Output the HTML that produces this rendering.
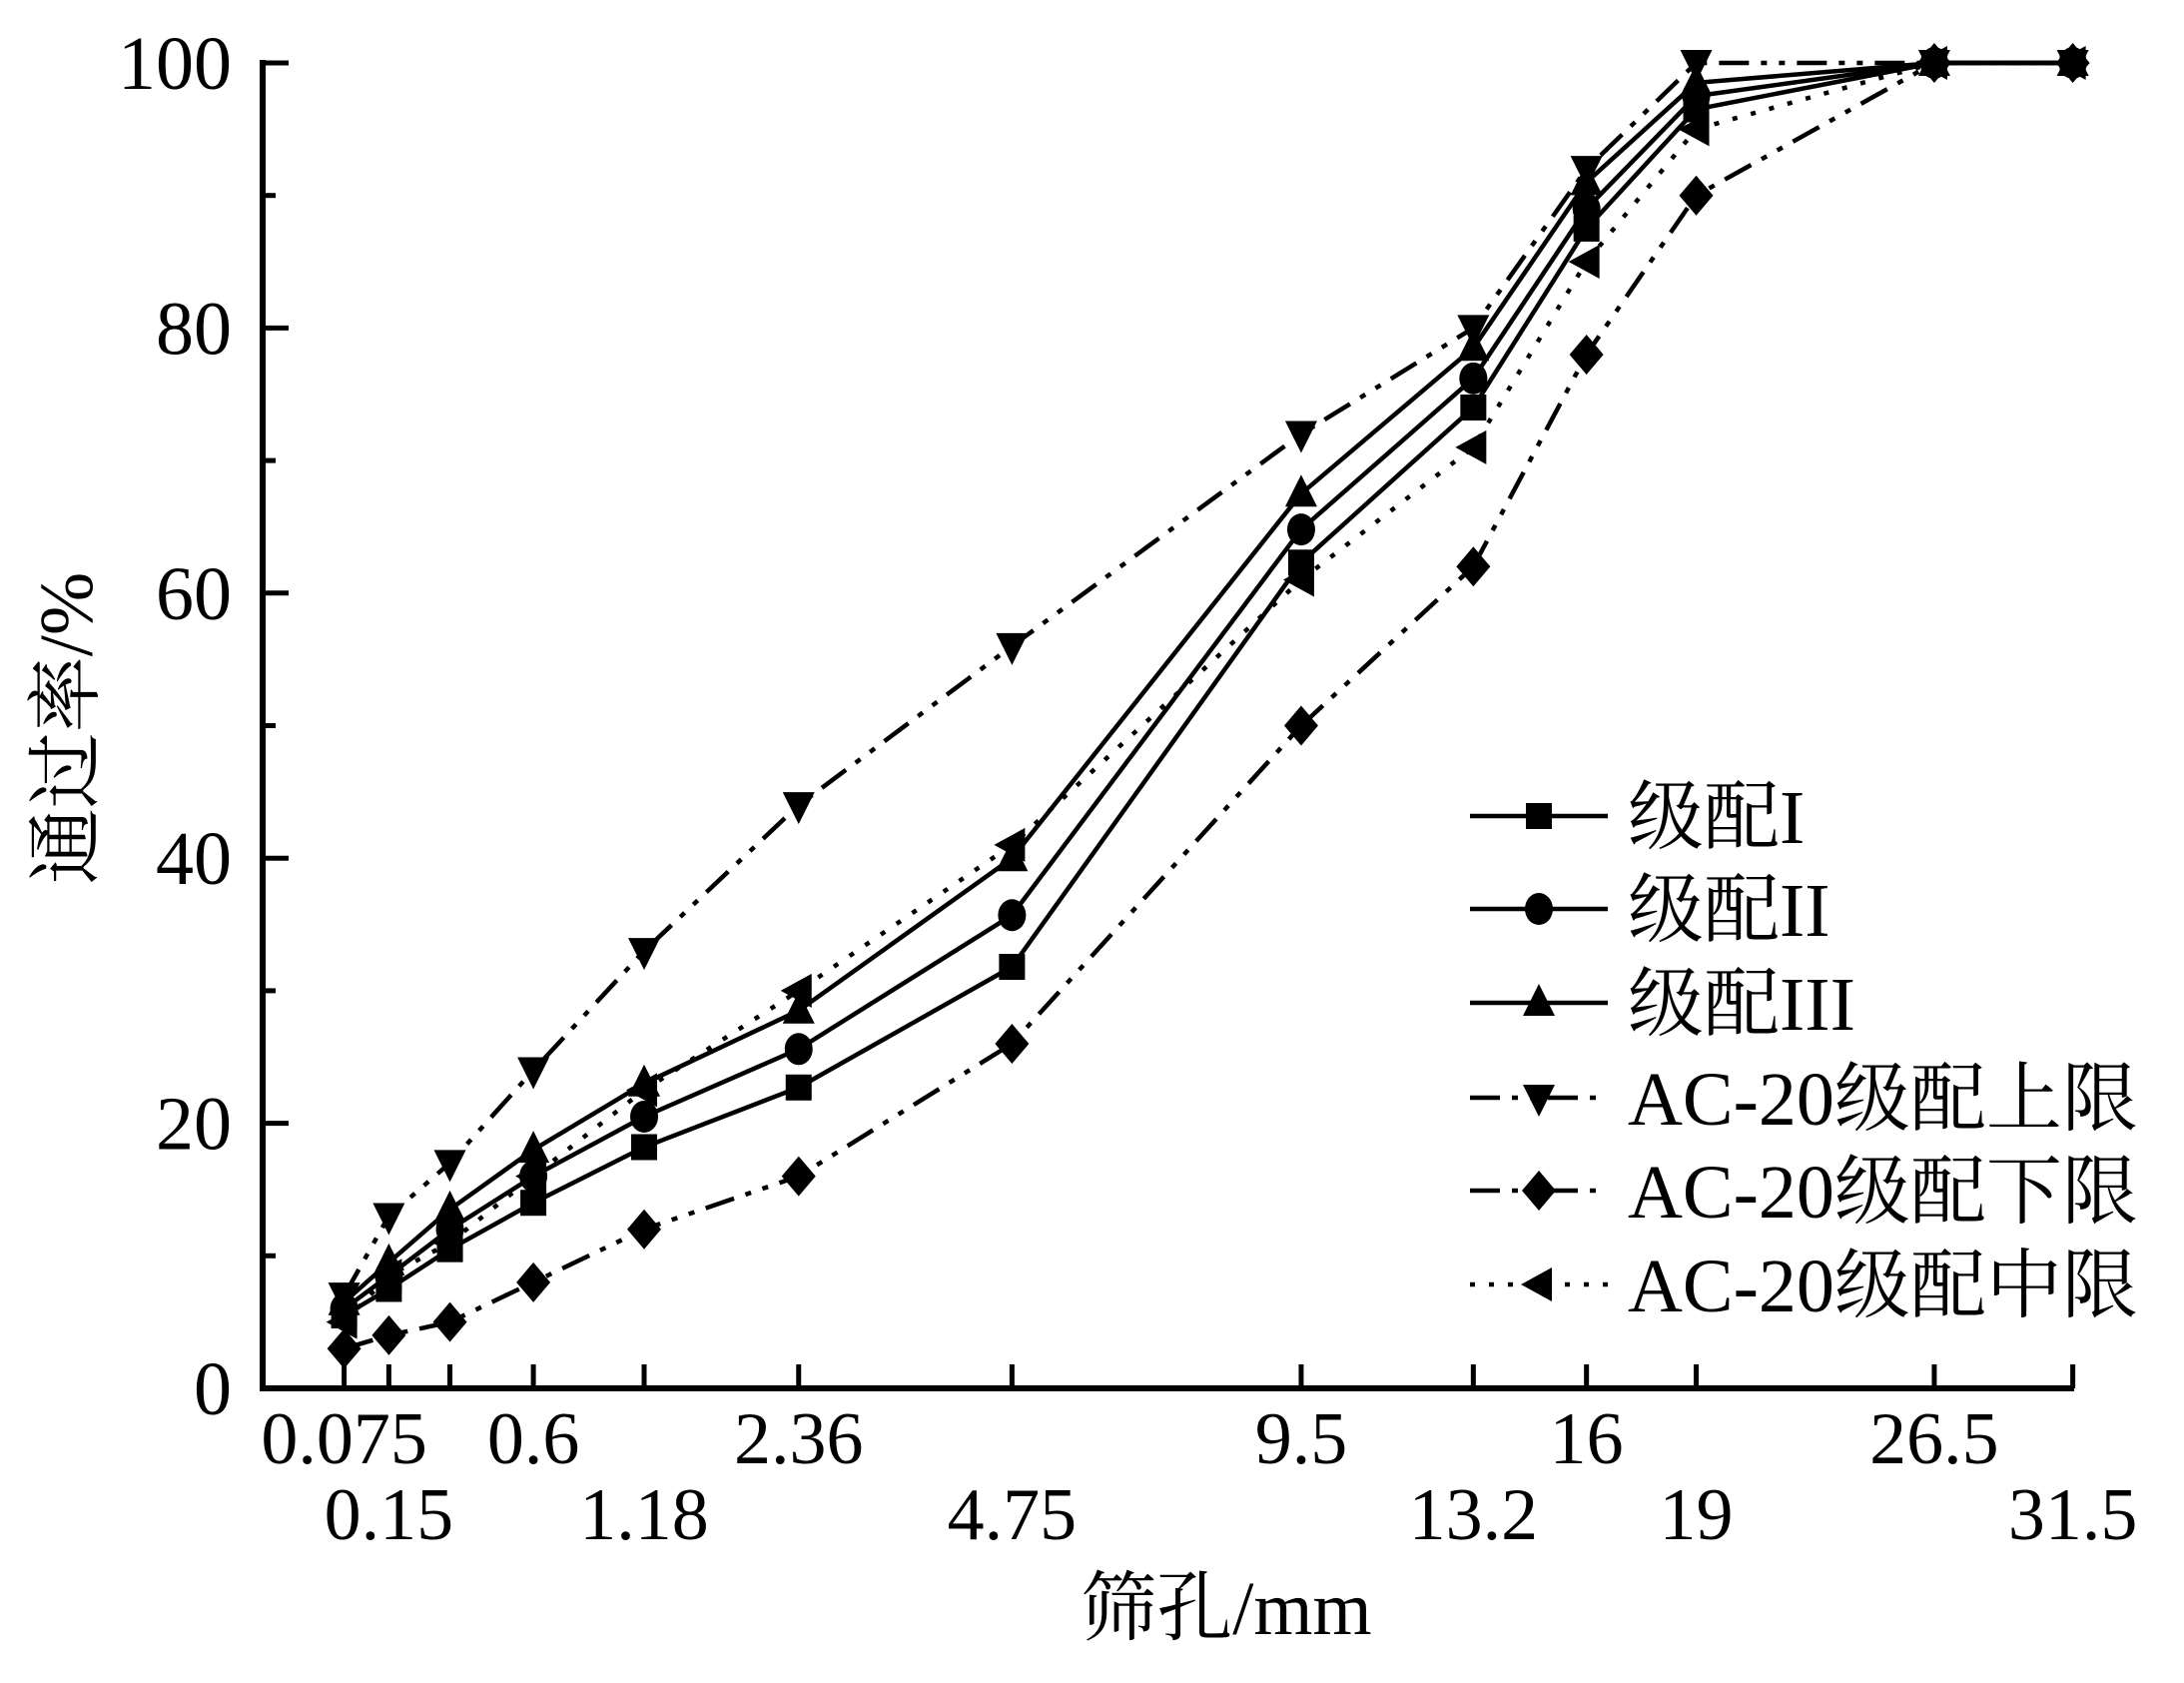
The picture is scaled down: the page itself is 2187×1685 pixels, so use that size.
<!DOCTYPE html>
<html><head><meta charset="utf-8"><style>
body{margin:0;background:#fff}
svg{display:block}
text{font-family:"Liberation Serif","Noto Serif CJK SC","Noto Sans CJK SC",serif;fill:#000}
</style></head><body>
<svg id="chart" width="2187" height="1685" viewBox="0 0 2187 1685" xmlns="http://www.w3.org/2000/svg"></svg>
<script>
const sieves=[0.075,0.15,0.3,0.6,1.18,2.36,4.75,9.5,13.2,16,19,26.5,31.5];
const topLabels=["0.075","","","0.6","","2.36","","9.5","","16","","26.5",""];
const bottomLabels=["","0.15","","","1.18","","4.75","","13.2","","19","","31.5"];
const yTicks=[0,20,40,60,80,100];
const g1=[5.5,7.5,10.5,14,18.2,22.7,31.8,62.3,74,87.5,96.5,100,100];
const g2=[6,8.5,12,16,20.5,25.6,35.7,64.8,76.2,89,97.5,100,100];
const g3=[6.5,9.5,13.5,18,23,28.5,40,67.5,78.5,91,98.5,100,100];
const upper=[7,13,17,24,33,44,56,72,80,92,100,100,100];
const lower=[3,4,5,8,12,16,26,50,62,78,90,100,100];
const middle=[5,8.5,11,16,22.5,30,41,61,71,85,95,100,100];

const NS="http://www.w3.org/2000/svg";
const svg=document.getElementById('chart');
const X0=263,X1=2077,Y0=1390,Y1=63;
function xs(d){const raw=222.1+394.2*Math.pow(d,0.45);return X0+0.9954*(raw-X0);}
function ys(v){return Y0-(v/100)*(Y0-Y1);}
function mk(tag,attrs,parent){const e=document.createElementNS(NS,tag);for(const k in attrs)e.setAttribute(k,attrs[k]);(parent||svg).appendChild(e);return e;}

const axes=mk('g',{});


const yl=mk('line',{x1:X0,y1:Y0+3,x2:X0,y2:Y1-3,stroke:'#000','stroke-width':6},axes);


const xl=mk('line',{x1:X0-3,y1:Y0,x2:X1,y2:Y0,stroke:'#000','stroke-width':6},axes);


for(let v=0;v<=100;v+=10){
  const major=v%20===0;
  const t=mk('line',{x1:X0,y1:ys(v),x2:X0+(major?26:13),y2:ys(v),stroke:'#000','stroke-width':5},axes);
  
  
}
yTicks.forEach(v=>{
  const t=mk('text',{x:232,y:ys(v)+26,'font-size':76,'text-anchor':'end'},axes);
  t.textContent=v;
  
  
});
sieves.forEach((d,i)=>{
  const t=mk('line',{x1:xs(d),y1:Y0,x2:xs(d),y2:Y0-24,stroke:'#000','stroke-width':5},axes);
  
  
  if(topLabels[i]){const l=mk('text',{x:xs(d),y:1465,'font-size':74,'text-anchor':'middle'},axes);l.textContent=topLabels[i];
    
    }
  if(bottomLabels[i]){const l=mk('text',{x:xs(d),y:1541,'font-size':74,'text-anchor':'middle'},axes);l.textContent=bottomLabels[i];
    
    }
});
const xt=mk('text',{x:1228,y:1636,'font-size':76,'text-anchor':'middle'});
xt.textContent='筛孔/mm';


const yt=mk('text',{x:0,y:0,'font-size':76,'text-anchor':'middle',transform:'translate(92,729) rotate(-90)'});
yt.textContent='通过率/%';



function marker(type,x,y,parent){
  let e;
  if(type==='square')e=mk('rect',{x:x-13,y:y-13,width:26,height:26},parent);
  else if(type==='circle')e=mk('ellipse',{cx:x,cy:y,rx:14,ry:16},parent);
  else if(type==='up')e=mk('polygon',{points:`${x},${y-19} ${x-16},${y+13} ${x+16},${y+13}`},parent);
  else if(type==='down')e=mk('polygon',{points:`${x},${y+19} ${x-16},${y-13} ${x+16},${y-13}`},parent);
  else if(type==='diamond')e=mk('polygon',{points:`${x},${y-20} ${x+17},${y} ${x},${y+20} ${x-17},${y}`},parent);
  else if(type==='left')e=mk('polygon',{points:`${x-18},${y} ${x+13},${y-17} ${x+13},${y+17}`},parent);
  e.setAttribute('fill','#000');
  return e;
}
const series=[
 {name:'级配I',vals:g1,m:'square',dash:'',id:'series-gradation-1'},
 {name:'级配II',vals:g2,m:'circle',dash:'',id:'series-gradation-2'},
 {name:'级配III',vals:g3,m:'up',dash:'',id:'series-gradation-3'},
 {name:'AC-20级配上限',vals:upper,m:'down',dash:'30 12 6 12 6 12',id:'series-upper-limit'},
 {name:'AC-20级配下限',vals:lower,m:'diamond',dash:'30 12 6 12 6 12',id:'series-lower-limit'},
 {name:'AC-20级配中限',vals:middle,m:'left',dash:'5 14',id:'series-middle-limit'}
];
series.forEach((s,si)=>{
  const g=mk('g',{});
  
  
  const pts=s.vals.map((v,i)=>xs(sieves[i])+','+ys(v)).join(' ');
  const pl=mk('polyline',{points:pts,fill:'none',stroke:'#000','stroke-width':4.5,'stroke-dasharray':s.dash},g);
  
  
  s.vals.forEach((v,i)=>{const p=marker(s.m,xs(sieves[i]),ys(v),g);
    
    });
  const ly=[817,910,1004,1099,1192,1286][si];
  const lg=mk('g',{});
  
  
  const ll=mk('line',{x1:1472,y1:ly,x2:1610,y2:ly,stroke:'#000','stroke-width':4.5,'stroke-dasharray':s.dash},lg);
  
  
  const lm=marker(s.m,1541,ly,lg);
  
  
  const lt=mk('text',{x:1630,y:ly+27,'font-size':76},lg);
  lt.textContent=s.name;
  
  
});
</script>
</body></html>
